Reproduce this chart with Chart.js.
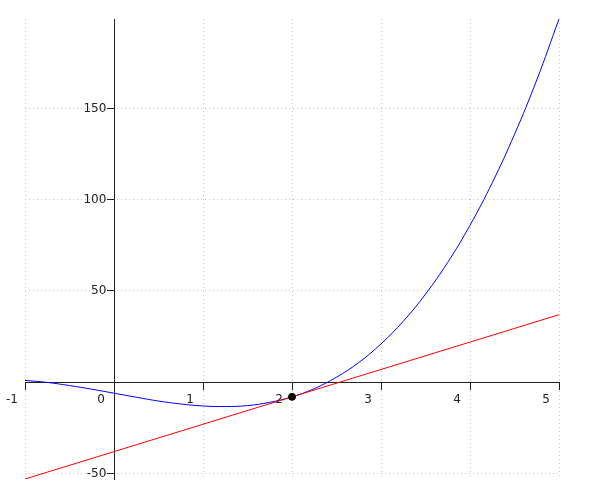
<!DOCTYPE html>
<html>
<head>
<meta charset="utf-8">
<script src="https://cdn.jsdelivr.net/npm/chart.js@4/dist/chart.umd.min.js"></script>
<style>
  html, body { margin: 0; padding: 0; background: #fff; }
  #wrap { width: 600px; height: 500px; }
</style>
</head>
<body>
<div id="wrap"><canvas id="grafico"></canvas></div>
<script>
// valores
const xs = [-1, -0.75, -0.5, -0.25, 0, 0.25, 0.5, 0.75, 1, 1.25, 1.5, 1.75, 2,
  2.25, 2.5, 2.75, 3, 3.25, 3.5, 3.75, 4, 4.25, 4.5, 4.75, 5]
const curva = [1, -0.1, -1.8, -3.8, -6, -8.2, -10.3, -11.9, -13, -13.3, -12.8, -11, -8,
  -3.5, 2.8, 10.8, 21, 33.4, 48.3, 65.7, 86, 109.3, 135.8, 165.6, 199]
const tangenteX = [-1, 5]
const tangenteY = [-53, 37]
const ponto = [{ x: 2, y: -8 }]

const xTicks = [-1, 0, 1, 2, 3, 4, 5]
const yTicks = [-50, 0, 50, 100, 150]

function montaPontos(xv, yv) {
  return xv.map((x, i) => ({ x: x, y: yv[i] }))
}

const corGrade = '#c8c8c8'
const fonte = { family: 'DejaVu Sans', size: 12 }

const grafico = new Chart(document.getElementById('grafico'), {
  type: 'scatter',
  data: {
    datasets: [
      {
        data: ponto,
        backgroundColor: '#000',
        borderColor: '#000',
        pointRadius: 3.5,
        showLine: false,
      },
      {
        data: montaPontos(tangenteX, tangenteY),
        borderColor: '#ff0000',
        borderWidth: 1,
        pointRadius: 0,
        showLine: true,
      },
      {
        data: montaPontos(xs, curva),
        borderColor: '#0000ff',
        borderWidth: 1,
        pointRadius: 0,
        showLine: true,
        tension: 0.4,
      },
    ],
  },
  options: {
    responsive: true,
    maintainAspectRatio: false,
    animation: false,
    layout: { padding: { left: 25, right: 41, top: 19, bottom: 21 } },
    plugins: { legend: { display: false }, tooltip: { enabled: false } },
    scales: {
      x: {
        type: 'linear',
        min: -1,
        max: 5,
        position: { y: 0 },
        afterBuildTicks: axis => { axis.ticks = xTicks.map(v => ({ value: v })) },
        ticks: {
          color: '#222',
          font: fonte,
          maxRotation: 0,
          labelOffset: -13,
          padding: 3,
        },
        grid: {
          color: corGrade,
          tickColor: '#222',
          tickLength: 7,
          tickBorderDash: [],
        },
        border: { color: '#222', width: 1, dash: [1, 3] },
      },
      y: {
        type: 'linear',
        min: -53,
        max: 199,
        position: { x: 0 },
        afterBuildTicks: axis => { axis.ticks = yTicks.map(v => ({ value: v })) },
        ticks: {
          color: '#222',
          font: fonte,
          // o rotulo fica colado no eixo, os espacos o empurram para a esquerda
          callback: v => (v === 0 ? '' : v + '  '),
        },
        grid: {
          color: corGrade,
          tickColor: '#222',
          tickLength: 7,
          tickBorderDash: [],
        },
        border: { color: '#222', width: 1, dash: [1, 3] },
      },
    },
  },
})
</script>
</body>
</html>
